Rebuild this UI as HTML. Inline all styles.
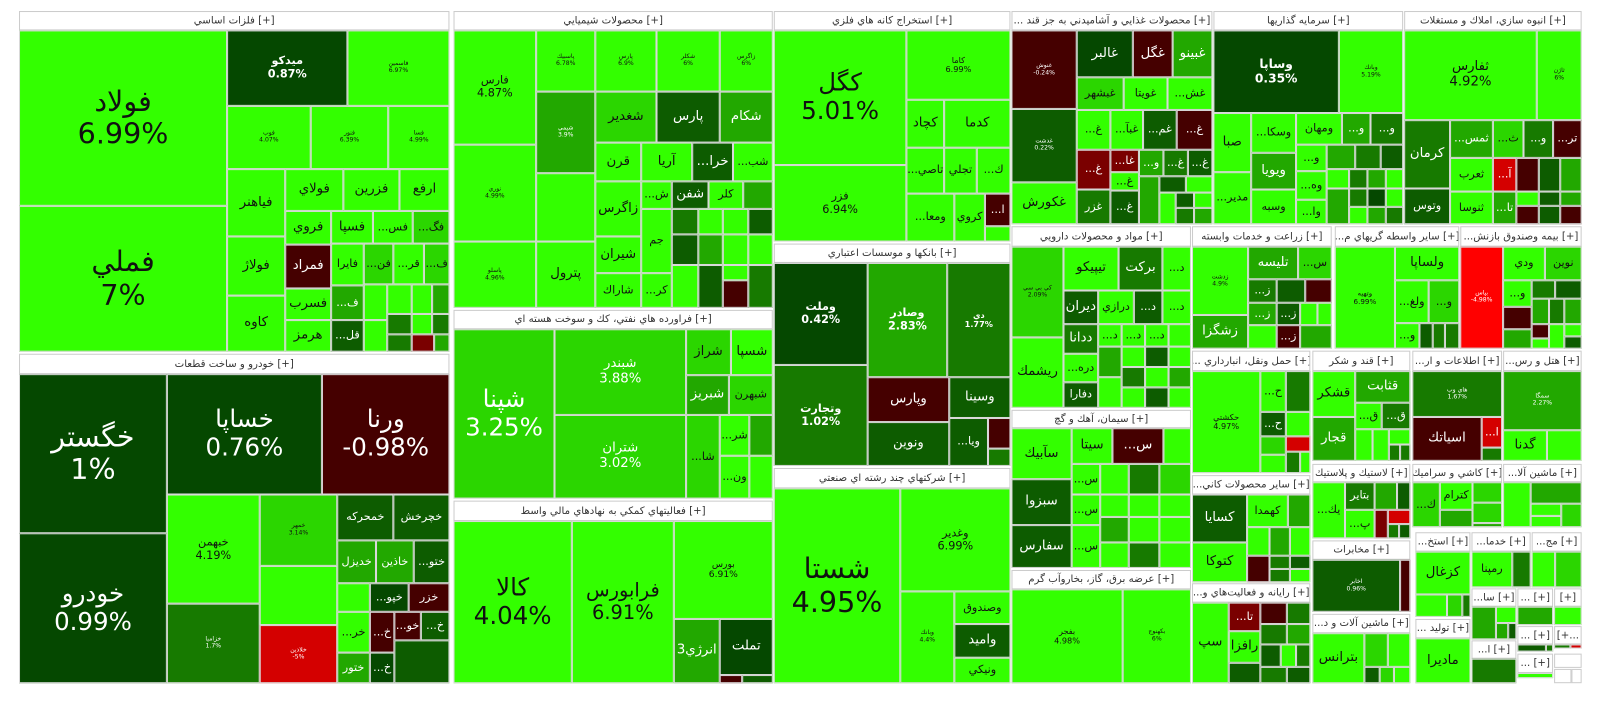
<!DOCTYPE html>
<html><head><meta charset="utf-8">
<style>
*{margin:0;padding:0;box-sizing:border-box}
body{width:1600px;height:698px;background:#fff;overflow:hidden;font-family:"DejaVu Sans","Liberation Sans",sans-serif;direction:ltr}
#m{position:absolute;left:0;top:0;width:1600px;height:698px;transform-origin:18px 10px;transform:translate(1px,0) scale(1.02)}
.c{position:absolute;border:1px solid #d9d9d9;display:flex;align-items:center;justify-content:center;text-align:center;overflow:hidden;color:#111;font-size:11px;line-height:1.15;white-space:nowrap}
.h{position:absolute;background:#fff;border:1px solid #ccc;color:#333;font-size:10px;display:flex;align-items:center;justify-content:center;white-space:nowrap;overflow:hidden}
.A{background:#33ff00}.B{background:#2bd600}.C{background:#22a800}.D{background:#177a00}.E{background:#0d5c00}.F{background:#054800}
.R{background:#450000;color:#fff}.Q{background:#d40000;color:#fff}.P{background:#7a0000;color:#fff}.X{background:#ff0000;color:#fff}
.C,.D,.E,.F{color:#fff}
.l{font-size:24px}.xl{font-size:28px}.m{font-size:13px}.s{font-size:11px}.t{font-size:6px}
</style></head><body><div id="m">

<!-- Sector 1 -->
<div class="h" style="left:18px;top:11px;width:422px;height:19px">فلزات اساسي [+]</div>
<div class="c A xl" style="left:18px;top:30px;width:204px;height:172px">فولاد<br>6.99%</div>
<div class="c A xl" style="left:18px;top:202px;width:204px;height:143px">فملي<br>7%</div>
<div class="c F s" style="left:222px;top:30px;width:118px;height:74px"><b>ميدكو<br>0.87%</b></div>
<div class="c A t" style="left:340px;top:30px;width:100px;height:74px">فاسمين<br>6.97%</div>
<div class="c A t" style="left:222px;top:104px;width:82px;height:62px">فوب<br>4.07%</div>
<div class="c A t" style="left:304px;top:104px;width:76px;height:62px">فنور<br>6.39%</div>
<div class="c A t" style="left:380px;top:104px;width:60px;height:62px">فسا<br>4.99%</div>
<div class="c A m" style="left:222px;top:166px;width:57px;height:66px">فياهنر</div>
<div class="c A m" style="left:222px;top:232px;width:57px;height:58px">فولاژ</div>
<div class="c A m" style="left:222px;top:290px;width:57px;height:55px">كاوه</div>
<div class="c A m" style="left:279px;top:166px;width:57px;height:41px">فولاي</div>
<div class="c A m" style="left:336px;top:166px;width:55px;height:41px">فزرين</div>
<div class="c A m" style="left:391px;top:166px;width:49px;height:41px">ارفع</div>
<div class="c A m" style="left:279px;top:207px;width:45px;height:33px">فروي</div>
<div class="c A m" style="left:324px;top:207px;width:41px;height:32px">فسپا</div>
<div class="c A s" style="left:365px;top:207px;width:39px;height:32px">...فس</div>
<div class="c B s" style="left:404px;top:207px;width:36px;height:32px">...فگ</div>
<div class="c R m" style="left:279px;top:240px;width:45px;height:43px">فمراد</div>
<div class="c A s" style="left:324px;top:239px;width:32px;height:41px">فايرا</div>
<div class="c B s" style="left:356px;top:239px;width:29px;height:40px">...فن</div>
<div class="c A s" style="left:385px;top:239px;width:30px;height:40px">...قر</div>
<div class="c B s" style="left:415px;top:239px;width:25px;height:40px">...ف</div>
<div class="c A m" style="left:279px;top:283px;width:45px;height:31px">فسرب</div>
<div class="c A m" style="left:279px;top:314px;width:45px;height:31px">هرمز</div>
<div class="c C s" style="left:324px;top:280px;width:32px;height:34px">...ف</div>
<div class="c E s" style="left:324px;top:314px;width:32px;height:31px">...قل</div>
<div class="c A" style="left:356px;top:279px;width:23px;height:35px"></div>
<div class="c A" style="left:356px;top:314px;width:23px;height:31px"></div>
<div class="c A" style="left:379px;top:279px;width:24px;height:29px"></div>
<div class="c A" style="left:403px;top:279px;width:20px;height:29px"></div>
<div class="c C" style="left:423px;top:279px;width:17px;height:29px"></div>
<div class="c D" style="left:379px;top:308px;width:24px;height:20px"></div>
<div class="c A" style="left:403px;top:308px;width:20px;height:20px"></div>
<div class="c D" style="left:423px;top:308px;width:17px;height:20px"></div>
<div class="c D" style="left:379px;top:328px;width:24px;height:17px"></div>
<div class="c P" style="left:403px;top:328px;width:22px;height:17px"></div>
<div class="c C" style="left:425px;top:328px;width:15px;height:17px"></div>

<!-- Sector 2 -->
<div class="h" style="left:18px;top:347px;width:422px;height:20px">خودرو و ساخت قطعات [+]</div>
<div class="c F xl" style="left:18px;top:367px;width:145px;height:156px">خگستر<br>1%</div>
<div class="c F l" style="left:18px;top:523px;width:145px;height:147px">خودرو<br>0.99%</div>
<div class="c F l" style="left:163px;top:367px;width:152px;height:118px">خساپا<br>0.76%</div>
<div class="c R l" style="left:315px;top:367px;width:125px;height:118px">ورنا<br>-0.98%</div>
<div class="c A s" style="left:163px;top:485px;width:91px;height:107px">خبهمن<br>4.19%</div>
<div class="c D t" style="left:163px;top:592px;width:91px;height:78px">خزامیا<br>1.7%</div>
<div class="c B t" style="left:254px;top:485px;width:76px;height:70px">خمهر<br>3.14%</div>
<div class="c A" style="left:254px;top:555px;width:76px;height:58px"></div>
<div class="c Q t" style="left:254px;top:613px;width:76px;height:57px">خلاذين<br>-5%</div>
<div class="c E s" style="left:330px;top:485px;width:55px;height:45px">خمحركه</div>
<div class="c E s" style="left:385px;top:485px;width:55px;height:45px">خچرخش</div>
<div class="c C s" style="left:330px;top:530px;width:38px;height:42px">خديزل</div>
<div class="c C s" style="left:368px;top:530px;width:37px;height:42px">خاذين</div>
<div class="c E s" style="left:405px;top:530px;width:35px;height:42px">...ختو</div>
<div class="c A s" style="left:330px;top:572px;width:32px;height:28px"></div>
<div class="c F s" style="left:362px;top:572px;width:38px;height:28px">...خپو</div>
<div class="c R s" style="left:400px;top:572px;width:40px;height:28px">خزر</div>
<div class="c A s" style="left:330px;top:600px;width:32px;height:40px">...خر</div>
<div class="c R s" style="left:362px;top:600px;width:24px;height:40px">...خ</div>
<div class="c R s" style="left:386px;top:600px;width:26px;height:28px">...خو</div>
<div class="c E s" style="left:412px;top:600px;width:28px;height:28px">...خ</div>
<div class="c C s" style="left:330px;top:640px;width:32px;height:30px">ختور</div>
<div class="c F s" style="left:362px;top:640px;width:24px;height:30px">...خ</div>
<div class="c E" style="left:386px;top:628px;width:54px;height:42px"></div>

<!-- Sector 3 chemicals -->
<div class="h" style="left:444px;top:11px;width:313px;height:19px">محصولات شيميايي [+]</div>
<div class="c A s" style="left:444px;top:30px;width:81px;height:112px">فارس<br>4.87%</div>
<div class="c A t" style="left:444px;top:142px;width:81px;height:95px">نوري<br>4.99%</div>
<div class="c A t" style="left:444px;top:237px;width:81px;height:65px">پاسلو<br>4.96%</div>
<div class="c A t" style="left:525px;top:30px;width:58px;height:60px">پاسبيك<br>6.78%</div>
<div class="c C t" style="left:525px;top:90px;width:58px;height:80px">شيمي<br>3.9%</div>
<div class="c A" style="left:525px;top:170px;width:58px;height:67px"></div>
<div class="c A m" style="left:525px;top:237px;width:58px;height:65px">پترول</div>
<div class="c A t" style="left:583px;top:30px;width:60px;height:60px">پارس<br>6.9%</div>
<div class="c A t" style="left:643px;top:30px;width:62px;height:60px">شكلر<br>6%</div>
<div class="c A t" style="left:705px;top:30px;width:52px;height:60px">زاگرس<br>6%</div>
<div class="c B m" style="left:583px;top:90px;width:60px;height:50px">شغدير</div>
<div class="c E m" style="left:643px;top:90px;width:62px;height:50px">پارس</div>
<div class="c C m" style="left:705px;top:90px;width:52px;height:50px">شكام</div>
<div class="c A m" style="left:583px;top:140px;width:45px;height:38px">قرن</div>
<div class="c A m" style="left:628px;top:140px;width:50px;height:38px">آريا</div>
<div class="c E m" style="left:678px;top:140px;width:40px;height:38px">...خرا</div>
<div class="c A s" style="left:718px;top:140px;width:39px;height:38px">...شب</div>
<div class="c A m" style="left:583px;top:178px;width:45px;height:54px">زاگرس</div>
<div class="c A m" style="left:583px;top:232px;width:45px;height:36px">شيران</div>
<div class="c A s" style="left:583px;top:268px;width:45px;height:34px">شاراك</div>
<div class="c A s" style="left:628px;top:178px;width:30px;height:27px">...ش</div>
<div class="c E m" style="left:658px;top:178px;width:36px;height:27px">شفن</div>
<div class="c A s" style="left:694px;top:178px;width:34px;height:27px">كلر</div>
<div class="c C" style="left:728px;top:178px;width:29px;height:27px"></div>
<div class="c A s" style="left:628px;top:205px;width:30px;height:63px">جم</div>
<div class="c A s" style="left:628px;top:268px;width:30px;height:34px">...كر</div>
<div class="c D" style="left:658px;top:205px;width:26px;height:25px"></div>
<div class="c A" style="left:684px;top:205px;width:24px;height:25px"></div>
<div class="c A" style="left:708px;top:205px;width:25px;height:25px"></div>
<div class="c E" style="left:733px;top:205px;width:24px;height:25px"></div>
<div class="c E" style="left:658px;top:230px;width:26px;height:30px"></div>
<div class="c C" style="left:684px;top:230px;width:24px;height:30px"></div>
<div class="c A" style="left:708px;top:230px;width:25px;height:30px"></div>
<div class="c A" style="left:733px;top:230px;width:24px;height:30px"></div>
<div class="c A" style="left:658px;top:260px;width:26px;height:42px"></div>
<div class="c E" style="left:684px;top:260px;width:24px;height:42px"></div>
<div class="c R" style="left:708px;top:275px;width:25px;height:27px"></div>
<div class="c A" style="left:708px;top:260px;width:25px;height:15px"></div>
<div class="c D" style="left:733px;top:260px;width:24px;height:42px"></div>

<!-- Sector 4 oil -->
<div class="h" style="left:444px;top:304px;width:313px;height:19px">فراورده هاي نفتي، كك و سوخت هسته اي [+]</div>
<div class="c B l" style="left:444px;top:323px;width:99px;height:166px"><span style="color:#fff">شپنا<br>3.25%</span></div>
<div class="c B m" style="left:543px;top:323px;width:129px;height:84px"><span style="color:#fff">شبندر<br>3.88%</span></div>
<div class="c B m" style="left:543px;top:407px;width:129px;height:82px"><span style="color:#fff">شتران<br>3.02%</span></div>
<div class="c B m" style="left:672px;top:323px;width:44px;height:45px">شراز</div>
<div class="c A m" style="left:716px;top:323px;width:41px;height:45px">شسپا</div>
<div class="c C m" style="left:672px;top:368px;width:42px;height:39px">شبريز</div>
<div class="c B s" style="left:714px;top:368px;width:43px;height:39px">شبهرن</div>
<div class="c B s" style="left:672px;top:407px;width:33px;height:82px">...شا</div>
<div class="c A s" style="left:705px;top:407px;width:29px;height:40px">...شر</div>
<div class="c C" style="left:734px;top:407px;width:23px;height:40px"></div>
<div class="c A s" style="left:705px;top:447px;width:29px;height:42px">...ون</div>
<div class="c A" style="left:734px;top:447px;width:23px;height:42px"></div>

<!-- Sector 5 -->
<div class="h" style="left:444px;top:491px;width:313px;height:20px">فعاليتهاي كمكي به نهادهاي مالي واسط [+]</div>
<div class="c A l" style="left:444px;top:511px;width:116px;height:159px">كالا<br>4.04%</div>
<div class="c A l" style="left:560px;top:511px;width:100px;height:159px" ><span style="font-size:19px">فرابورس<br>6.91%</span></div>
<div class="c A t" style="left:660px;top:511px;width:97px;height:96px"><span style="font-size:9px">بورس<br>6.91%</span></div>
<div class="c C m" style="left:660px;top:607px;width:45px;height:63px">انرژي3</div>
<div class="c F m" style="left:705px;top:607px;width:52px;height:55px">تملت</div>
<div class="c R" style="left:705px;top:662px;width:22px;height:8px"></div>
<div class="c E" style="left:727px;top:662px;width:30px;height:8px"></div>

<!-- Sector 6 mining -->
<div class="h" style="left:758px;top:11px;width:232px;height:19px">استخراج كانه هاي فلزي [+]</div>
<div class="c A l" style="left:758px;top:30px;width:130px;height:132px">كگل<br>5.01%</div>
<div class="c A s" style="left:758px;top:162px;width:130px;height:75px">فزر<br>6.94%</div>
<div class="c A t" style="left:888px;top:30px;width:102px;height:68px"><span style="font-size:8px">كاما<br>6.99%</span></div>
<div class="c A m" style="left:888px;top:98px;width:37px;height:47px">كچاد</div>
<div class="c A m" style="left:925px;top:98px;width:65px;height:47px">كدما</div>
<div class="c A s" style="left:888px;top:145px;width:37px;height:45px">...تاصي</div>
<div class="c A s" style="left:925px;top:145px;width:32px;height:45px">تجلي</div>
<div class="c A s" style="left:957px;top:145px;width:33px;height:45px">...ك</div>
<div class="c A s" style="left:888px;top:190px;width:47px;height:47px">...ومعا</div>
<div class="c A s" style="left:935px;top:190px;width:30px;height:47px">كروي</div>
<div class="c R s" style="left:965px;top:190px;width:25px;height:32px">...ا</div>
<div class="c A" style="left:965px;top:222px;width:25px;height:15px"></div>

<!-- Sector 7 banks -->
<div class="h" style="left:758px;top:239px;width:232px;height:19px">بانكها و موسسات اعتباري [+]</div>
<div class="c F s" style="left:758px;top:258px;width:92px;height:100px"><b>وملت<br>0.42%</b></div>
<div class="c D s" style="left:758px;top:358px;width:92px;height:99px"><b>وتجارت<br>1.02%</b></div>
<div class="c C s" style="left:850px;top:258px;width:78px;height:112px"><b>وصادر<br>2.83%</b></div>
<div class="c D t" style="left:928px;top:258px;width:62px;height:112px"><b style="font-size:8px">دي<br>1.77%</b></div>
<div class="c R m" style="left:850px;top:370px;width:80px;height:44px">وپارس</div>
<div class="c E m" style="left:850px;top:414px;width:80px;height:43px">ونوين</div>
<div class="c E m" style="left:930px;top:370px;width:60px;height:40px">وسينا</div>
<div class="c E s" style="left:930px;top:410px;width:38px;height:47px">...ويا</div>
<div class="c R" style="left:968px;top:410px;width:22px;height:30px"></div>
<div class="c D" style="left:968px;top:440px;width:22px;height:17px"></div>

<!-- Sector 8 -->
<div class="h" style="left:758px;top:459px;width:232px;height:20px">شركتهاي چند رشته اي صنعتي [+]</div>
<div class="c A xl" style="left:758px;top:479px;width:124px;height:191px">شستا<br>4.95%</div>
<div class="c A s" style="left:882px;top:479px;width:108px;height:101px">وغدير<br>6.99%</div>
<div class="c A t" style="left:882px;top:580px;width:53px;height:90px">وبانك<br>4.4%</div>
<div class="c A s" style="left:935px;top:580px;width:55px;height:32px">وصندوق</div>
<div class="c E m" style="left:935px;top:612px;width:55px;height:33px">واميد</div>
<div class="c A s" style="left:935px;top:645px;width:55px;height:25px">ونيكي</div>

<!-- Sector 9 food -->
<div class="h" style="left:991px;top:11px;width:197px;height:19px">... محصولات غذايي و آشاميدني به جز قند [+]</div>
<div class="c R t" style="left:991px;top:30px;width:64px;height:77px">غنوش<br>-0.24%</div>
<div class="c E t" style="left:991px;top:107px;width:64px;height:72px">غدشت<br>0.22%</div>
<div class="c A m" style="left:991px;top:179px;width:64px;height:41px">غكورش</div>
<div class="c F m" style="left:1055px;top:30px;width:55px;height:46px">غالبر</div>
<div class="c R m" style="left:1110px;top:30px;width:39px;height:46px">غگل</div>
<div class="c C m" style="left:1149px;top:30px;width:39px;height:46px">غبينو</div>
<div class="c B s" style="left:1055px;top:76px;width:46px;height:32px">غبشهر</div>
<div class="c A s" style="left:1101px;top:76px;width:43px;height:32px">غويتا</div>
<div class="c A s" style="left:1144px;top:76px;width:44px;height:32px">...غش</div>
<div class="c A s" style="left:1055px;top:108px;width:33px;height:39px">...غ</div>
<div class="c A s" style="left:1088px;top:108px;width:32px;height:39px">...غبآ</div>
<div class="c E s" style="left:1120px;top:108px;width:33px;height:39px">...غم</div>
<div class="c R s" style="left:1153px;top:108px;width:35px;height:39px">...غ</div>
<div class="c P s" style="left:1055px;top:147px;width:33px;height:39px">...غ</div>
<div class="c P s" style="left:1088px;top:147px;width:28px;height:22px">...غا</div>
<div class="c A s" style="left:1088px;top:169px;width:28px;height:18px">...غ</div>
<div class="c C s" style="left:1116px;top:147px;width:24px;height:26px">...و</div>
<div class="c D s" style="left:1140px;top:147px;width:24px;height:26px">...غ</div>
<div class="c E s" style="left:1164px;top:147px;width:24px;height:26px">...غ</div>
<div class="c D s" style="left:1055px;top:186px;width:33px;height:34px">غزر</div>
<div class="c E s" style="left:1088px;top:187px;width:28px;height:33px">...غ</div>
<div class="c C" style="left:1116px;top:173px;width:20px;height:47px"></div>
<div class="c E" style="left:1136px;top:173px;width:26px;height:16px"></div>
<div class="c A" style="left:1162px;top:173px;width:26px;height:16px"></div>
<div class="c A" style="left:1136px;top:189px;width:16px;height:31px"></div>
<div class="c E" style="left:1152px;top:189px;width:18px;height:15px"></div>
<div class="c A" style="left:1170px;top:189px;width:18px;height:15px"></div>
<div class="c D" style="left:1152px;top:204px;width:18px;height:16px"></div>
<div class="c C" style="left:1170px;top:204px;width:18px;height:16px"></div>

<!-- Sector 10 investment -->
<div class="h" style="left:1189px;top:11px;width:186px;height:19px">سرمايه گذاريها [+]</div>
<div class="c F s" style="left:1189px;top:30px;width:123px;height:81px"><b style="font-size:12px">وساپا<br>0.35%</b></div>
<div class="c A t" style="left:1312px;top:30px;width:63px;height:81px">وبانك<br>5.19%</div>
<div class="c A m" style="left:1189px;top:111px;width:37px;height:58px">صبا</div>
<div class="c A s" style="left:1189px;top:169px;width:37px;height:51px">...مدير</div>
<div class="c A s" style="left:1226px;top:111px;width:44px;height:39px">...وسكا</div>
<div class="c C m" style="left:1226px;top:150px;width:44px;height:36px">ويويا</div>
<div class="c A s" style="left:1226px;top:186px;width:44px;height:34px">وسبه</div>
<div class="c A s" style="left:1270px;top:111px;width:45px;height:31px">ومهان</div>
<div class="c C s" style="left:1315px;top:111px;width:28px;height:31px">...و</div>
<div class="c D s" style="left:1343px;top:111px;width:32px;height:31px">...و</div>
<div class="c A s" style="left:1270px;top:142px;width:30px;height:26px">...و</div>
<div class="c A s" style="left:1270px;top:168px;width:30px;height:28px">...وه</div>
<div class="c A s" style="left:1270px;top:196px;width:30px;height:24px">...وا</div>
<div class="c C" style="left:1300px;top:142px;width:28px;height:24px"></div>
<div class="c D" style="left:1328px;top:142px;width:25px;height:24px"></div>
<div class="c E" style="left:1353px;top:142px;width:22px;height:24px"></div>
<div class="c A" style="left:1300px;top:166px;width:22px;height:19px"></div>
<div class="c D" style="left:1322px;top:166px;width:18px;height:19px"></div>
<div class="c C" style="left:1340px;top:166px;width:18px;height:19px"></div>
<div class="c A" style="left:1358px;top:166px;width:17px;height:19px"></div>
<div class="c C" style="left:1300px;top:185px;width:22px;height:35px"></div>
<div class="c D" style="left:1322px;top:185px;width:18px;height:18px"></div>
<div class="c F" style="left:1340px;top:185px;width:18px;height:18px"></div>
<div class="c A" style="left:1358px;top:185px;width:17px;height:18px"></div>
<div class="c A" style="left:1322px;top:203px;width:18px;height:17px"></div>
<div class="c C" style="left:1340px;top:203px;width:18px;height:17px"></div>
<div class="c D" style="left:1358px;top:203px;width:17px;height:17px"></div>

<!-- Sector 11 -->
<div class="h" style="left:1376px;top:11px;width:174px;height:19px">انبوه سازي، املاك و مستغلات [+]</div>
<div class="c A m" style="left:1376px;top:30px;width:130px;height:88px">ثفارس<br>4.92%</div>
<div class="c A t" style="left:1506px;top:30px;width:44px;height:88px">ثاژن<br>6%</div>
<div class="c D m" style="left:1376px;top:118px;width:45px;height:67px">كرمان</div>
<div class="c E s" style="left:1376px;top:185px;width:45px;height:35px">وتوس</div>
<div class="c C s" style="left:1421px;top:118px;width:42px;height:37px">...ثمس</div>
<div class="c B s" style="left:1463px;top:118px;width:30px;height:37px">...ث</div>
<div class="c D s" style="left:1493px;top:118px;width:29px;height:37px">...و</div>
<div class="c R s" style="left:1522px;top:118px;width:28px;height:37px">...تر</div>
<div class="c A s" style="left:1421px;top:155px;width:42px;height:33px">ثعرب</div>
<div class="c Q s" style="left:1463px;top:155px;width:23px;height:33px">...آ</div>
<div class="c R" style="left:1486px;top:155px;width:22px;height:33px"></div>
<div class="c E" style="left:1508px;top:155px;width:21px;height:33px"></div>
<div class="c C" style="left:1529px;top:155px;width:21px;height:33px"></div>
<div class="c A s" style="left:1421px;top:188px;width:42px;height:32px">ثنوسا</div>
<div class="c C s" style="left:1463px;top:188px;width:23px;height:32px">...تا</div>
<div class="c A" style="left:1486px;top:188px;width:22px;height:14px"></div>
<div class="c E" style="left:1508px;top:188px;width:21px;height:14px"></div>
<div class="c C" style="left:1529px;top:188px;width:21px;height:14px"></div>
<div class="c R" style="left:1486px;top:202px;width:22px;height:18px"></div>
<div class="c E" style="left:1508px;top:202px;width:21px;height:18px"></div>
<div class="c R" style="left:1529px;top:202px;width:21px;height:18px"></div>

<!-- Sector 12 pharma -->
<div class="h" style="left:991px;top:222px;width:176px;height:20px">مواد و محصولات دارويي [+]</div>
<div class="c B t" style="left:991px;top:242px;width:51px;height:89px">كي بي سي<br>2.09%</div>
<div class="c A m" style="left:991px;top:331px;width:51px;height:69px">ريشمك</div>
<div class="c A m" style="left:1042px;top:242px;width:54px;height:43px">تيپيكو</div>
<div class="c D m" style="left:1096px;top:242px;width:43px;height:43px">بركت</div>
<div class="c A s" style="left:1139px;top:242px;width:28px;height:43px">...د</div>
<div class="c E m" style="left:1042px;top:285px;width:34px;height:33px">ديران</div>
<div class="c A s" style="left:1076px;top:285px;width:35px;height:33px">درازي</div>
<div class="c E s" style="left:1111px;top:285px;width:28px;height:33px">...د</div>
<div class="c A s" style="left:1139px;top:285px;width:28px;height:33px">...د</div>
<div class="c D m" style="left:1042px;top:318px;width:34px;height:29px">ددانا</div>
<div class="c A s" style="left:1076px;top:318px;width:23px;height:22px">...د</div>
<div class="c A s" style="left:1099px;top:318px;width:23px;height:22px">...د</div>
<div class="c A s" style="left:1122px;top:318px;width:23px;height:22px">...د</div>
<div class="c A" style="left:1145px;top:318px;width:22px;height:22px"></div>
<div class="c A s" style="left:1042px;top:347px;width:34px;height:28px">...دره</div>
<div class="c E s" style="left:1042px;top:375px;width:34px;height:25px">دفارا</div>
<div class="c C" style="left:1076px;top:340px;width:23px;height:30px"></div>
<div class="c A" style="left:1099px;top:340px;width:23px;height:20px"></div>
<div class="c E" style="left:1122px;top:340px;width:23px;height:20px"></div>
<div class="c A" style="left:1145px;top:340px;width:22px;height:20px"></div>
<div class="c A" style="left:1076px;top:370px;width:23px;height:30px"></div>
<div class="c D" style="left:1099px;top:360px;width:23px;height:20px"></div>
<div class="c A" style="left:1122px;top:360px;width:23px;height:20px"></div>
<div class="c C" style="left:1145px;top:360px;width:22px;height:20px"></div>
<div class="c A" style="left:1099px;top:380px;width:23px;height:20px"></div>
<div class="c E" style="left:1122px;top:380px;width:23px;height:20px"></div>
<div class="c A" style="left:1145px;top:380px;width:22px;height:20px"></div>

<!-- Sector 13 cement -->
<div class="h" style="left:991px;top:402px;width:176px;height:18px">سيمان، آهك و گچ [+]</div>
<div class="c A m" style="left:991px;top:420px;width:59px;height:50px">سآبيك</div>
<div class="c E m" style="left:991px;top:470px;width:59px;height:45px">سبزوا</div>
<div class="c E m" style="left:991px;top:515px;width:59px;height:42px">سفارس</div>
<div class="c A m" style="left:1050px;top:420px;width:40px;height:35px">سيتا</div>
<div class="c R m" style="left:1090px;top:420px;width:50px;height:35px">...س</div>
<div class="c A" style="left:1140px;top:420px;width:27px;height:35px"></div>
<div class="c A s" style="left:1050px;top:455px;width:28px;height:30px">...س</div>
<div class="c A" style="left:1078px;top:455px;width:28px;height:30px"></div>
<div class="c D" style="left:1106px;top:455px;width:30px;height:30px"></div>
<div class="c B" style="left:1136px;top:455px;width:31px;height:30px"></div>
<div class="c A s" style="left:1050px;top:485px;width:28px;height:30px">...س</div>
<div class="c A" style="left:1078px;top:485px;width:28px;height:22px"></div>
<div class="c A" style="left:1106px;top:485px;width:30px;height:22px"></div>
<div class="c A" style="left:1136px;top:485px;width:31px;height:22px"></div>
<div class="c A s" style="left:1050px;top:515px;width:28px;height:42px">...س</div>
<div class="c C" style="left:1078px;top:507px;width:28px;height:25px"></div>
<div class="c A" style="left:1106px;top:507px;width:30px;height:25px"></div>
<div class="c A" style="left:1136px;top:507px;width:31px;height:25px"></div>
<div class="c A" style="left:1078px;top:532px;width:28px;height:25px"></div>
<div class="c D" style="left:1106px;top:532px;width:30px;height:25px"></div>
<div class="c A" style="left:1136px;top:532px;width:31px;height:25px"></div>

<!-- Sector 14 electricity -->
<div class="h" style="left:991px;top:559px;width:176px;height:19px">عرضه برق، گاز، بخاروآب گرم [+]</div>
<div class="c A t" style="left:991px;top:578px;width:109px;height:92px"><span style="font-size:8px">بفجر<br>4.98%</span></div>
<div class="c A t" style="left:1100px;top:578px;width:67px;height:92px">بكهنوج<br>6%</div>

<!-- Sector 15 agri -->
<div class="h" style="left:1168px;top:222px;width:137px;height:20px">زراعت و خدمات وابسته [+]</div>
<div class="c A t" style="left:1168px;top:242px;width:55px;height:67px">زدشت<br>4.9%</div>
<div class="c C m" style="left:1168px;top:309px;width:55px;height:33px">زشگزا</div>
<div class="c C m" style="left:1223px;top:242px;width:49px;height:32px">تليسه</div>
<div class="c B s" style="left:1272px;top:242px;width:33px;height:32px">...س</div>
<div class="c D s" style="left:1223px;top:274px;width:28px;height:23px">...ز</div>
<div class="c E" style="left:1251px;top:274px;width:28px;height:23px"></div>
<div class="c R" style="left:1279px;top:274px;width:26px;height:23px"></div>
<div class="c C s" style="left:1223px;top:297px;width:28px;height:22px">...ز</div>
<div class="c E s" style="left:1251px;top:297px;width:23px;height:22px">...ز</div>
<div class="c A" style="left:1274px;top:297px;width:17px;height:22px"></div>
<div class="c A" style="left:1291px;top:297px;width:14px;height:22px"></div>
<div class="c A" style="left:1223px;top:319px;width:28px;height:23px"></div>
<div class="c R s" style="left:1251px;top:319px;width:23px;height:23px">...ز</div>
<div class="c C" style="left:1274px;top:319px;width:31px;height:23px"></div>

<!-- Sector 16 -->
<div class="h" style="left:1308px;top:222px;width:122px;height:20px">...ساير واسطه گريهاي م [+]</div>
<div class="c A t" style="left:1308px;top:242px;width:59px;height:100px"><span style="font-size:7px">وتهيه<br>6.99%</span></div>
<div class="c A m" style="left:1367px;top:242px;width:63px;height:33px">ولساپا</div>
<div class="c A s" style="left:1367px;top:275px;width:33px;height:42px">...ولغ</div>
<div class="c B s" style="left:1400px;top:275px;width:30px;height:42px">...و</div>
<div class="c A s" style="left:1367px;top:317px;width:24px;height:25px">...و</div>
<div class="c E" style="left:1391px;top:317px;width:13px;height:25px"></div>
<div class="c D" style="left:1404px;top:317px;width:12px;height:25px"></div>
<div class="c D" style="left:1416px;top:317px;width:14px;height:25px"></div>

<!-- Sector 17 -->
<div class="h" style="left:1431px;top:222px;width:119px;height:20px">...بيمه وصندوق بازنش [+]</div>
<div class="c X t" style="left:1431px;top:242px;width:42px;height:100px">بپاس<br>-4.98%</div>
<div class="c A s" style="left:1473px;top:242px;width:41px;height:33px">ودي</div>
<div class="c B s" style="left:1514px;top:242px;width:36px;height:33px">نوين</div>
<div class="c A s" style="left:1473px;top:275px;width:28px;height:26px">...و</div>
<div class="c D" style="left:1501px;top:275px;width:23px;height:18px"></div>
<div class="c E" style="left:1524px;top:275px;width:26px;height:18px"></div>
<div class="c R" style="left:1473px;top:301px;width:28px;height:22px"></div>
<div class="c C" style="left:1501px;top:293px;width:17px;height:25px"></div>
<div class="c D" style="left:1518px;top:293px;width:15px;height:25px"></div>
<div class="c C" style="left:1533px;top:293px;width:17px;height:25px"></div>
<div class="c C" style="left:1473px;top:323px;width:28px;height:19px"></div>
<div class="c R" style="left:1501px;top:318px;width:17px;height:14px"></div>
<div class="c A" style="left:1518px;top:318px;width:15px;height:24px"></div>
<div class="c A" style="left:1533px;top:318px;width:17px;height:12px"></div>
<div class="c E" style="left:1533px;top:330px;width:17px;height:12px"></div>
<div class="c A" style="left:1501px;top:332px;width:17px;height:10px"></div>

<!-- Sector 18 transport -->
<div class="h" style="left:1168px;top:344px;width:116px;height:20px">... حمل ونقل، انبارداري [+]</div>
<div class="c A t" style="left:1168px;top:364px;width:67px;height:100px"><span style="font-size:8px">حكشتي<br>4.97%</span></div>
<div class="c A s" style="left:1235px;top:364px;width:25px;height:40px">...ح</div>
<div class="c D" style="left:1260px;top:364px;width:24px;height:40px"></div>
<div class="c E s" style="left:1235px;top:404px;width:25px;height:24px">...ح</div>
<div class="c A" style="left:1260px;top:404px;width:24px;height:24px"></div>
<div class="c B" style="left:1235px;top:428px;width:25px;height:18px"></div>
<div class="c Q" style="left:1260px;top:428px;width:24px;height:15px"></div>
<div class="c A" style="left:1235px;top:446px;width:25px;height:18px"></div>
<div class="c D" style="left:1260px;top:443px;width:14px;height:21px"></div>
<div class="c A" style="left:1274px;top:443px;width:10px;height:21px"></div>

<!-- Sector 19 -->
<div class="h" style="left:1286px;top:344px;width:96px;height:20px">قند و شكر [+]</div>
<div class="c A m" style="left:1286px;top:364px;width:42px;height:45px">قشكر</div>
<div class="c C m" style="left:1328px;top:364px;width:54px;height:31px">قثابت</div>
<div class="c A s" style="left:1328px;top:395px;width:26px;height:26px">...ق</div>
<div class="c D s" style="left:1354px;top:395px;width:28px;height:26px">...ق</div>
<div class="c C m" style="left:1286px;top:409px;width:42px;height:43px">قجار</div>
<div class="c A" style="left:1328px;top:421px;width:17px;height:31px"></div>
<div class="c A" style="left:1345px;top:421px;width:16px;height:31px"></div>
<div class="c A" style="left:1361px;top:421px;width:21px;height:15px"></div>
<div class="c D" style="left:1361px;top:436px;width:11px;height:16px"></div>
<div class="c D" style="left:1372px;top:436px;width:10px;height:16px"></div>

<!-- Sector 20 -->
<div class="h" style="left:1384px;top:344px;width:88px;height:20px">...اطلاعات و ار [+]</div>
<div class="c D t" style="left:1384px;top:364px;width:88px;height:45px">هاي وب<br>1.67%</div>
<div class="c R m" style="left:1384px;top:409px;width:68px;height:43px">اسياتك</div>
<div class="c Q s" style="left:1452px;top:409px;width:20px;height:30px">...ا</div>
<div class="c D" style="left:1452px;top:439px;width:20px;height:13px"></div>

<!-- Sector 21 -->
<div class="h" style="left:1473px;top:344px;width:77px;height:20px">...هتل و رس [+]</div>
<div class="c C t" style="left:1473px;top:364px;width:77px;height:58px">سمگا<br>2.27%</div>
<div class="c A m" style="left:1473px;top:422px;width:43px;height:30px">گدنا</div>
<div class="c A" style="left:1516px;top:422px;width:34px;height:30px"></div>

<!-- Sector 22 -->
<div class="h" style="left:1168px;top:466px;width:116px;height:19px">...ساير محصولات كاني [+]</div>
<div class="c E m" style="left:1168px;top:485px;width:54px;height:47px">كسايا</div>
<div class="c A m" style="left:1168px;top:532px;width:54px;height:39px">كتوكا</div>
<div class="c A s" style="left:1222px;top:485px;width:40px;height:32px">كهمدا</div>
<div class="c C" style="left:1262px;top:485px;width:22px;height:32px"></div>
<div class="c A" style="left:1222px;top:517px;width:22px;height:28px"></div>
<div class="c C" style="left:1244px;top:517px;width:20px;height:28px"></div>
<div class="c A" style="left:1264px;top:517px;width:20px;height:28px"></div>
<div class="c R" style="left:1222px;top:545px;width:22px;height:26px"></div>
<div class="c D" style="left:1244px;top:545px;width:20px;height:13px"></div>
<div class="c E" style="left:1264px;top:545px;width:20px;height:13px"></div>
<div class="c D" style="left:1244px;top:558px;width:20px;height:13px"></div>
<div class="c A" style="left:1264px;top:558px;width:20px;height:13px"></div>

<!-- Sector 23 -->
<div class="h" style="left:1168px;top:572px;width:116px;height:19px">...رايانه و فعاليت‌هاي و [+]</div>
<div class="c A m" style="left:1168px;top:591px;width:36px;height:79px">سپ</div>
<div class="c P s" style="left:1204px;top:591px;width:31px;height:28px">...تا</div>
<div class="c R" style="left:1235px;top:591px;width:26px;height:21px"></div>
<div class="c D" style="left:1261px;top:591px;width:23px;height:21px"></div>
<div class="c A m" style="left:1204px;top:619px;width:31px;height:31px">رافزا</div>
<div class="c D" style="left:1235px;top:612px;width:26px;height:20px"></div>
<div class="c C" style="left:1261px;top:612px;width:23px;height:20px"></div>
<div class="c E" style="left:1235px;top:632px;width:20px;height:22px"></div>
<div class="c A" style="left:1255px;top:632px;width:15px;height:22px"></div>
<div class="c D" style="left:1270px;top:632px;width:14px;height:22px"></div>
<div class="c E" style="left:1204px;top:650px;width:31px;height:20px"></div>
<div class="c D" style="left:1235px;top:654px;width:26px;height:16px"></div>
<div class="c E" style="left:1261px;top:654px;width:23px;height:16px"></div>

<!-- Sector 24 -->
<div class="h" style="left:1286px;top:455px;width:96px;height:18px">لاستيك و پلاستيك [+]</div>
<div class="c A s" style="left:1286px;top:473px;width:32px;height:55px">...يك</div>
<div class="c D s" style="left:1318px;top:473px;width:29px;height:27px">بتاير</div>
<div class="c A s" style="left:1318px;top:500px;width:29px;height:28px">...پ</div>
<div class="c C" style="left:1347px;top:473px;width:22px;height:27px"></div>
<div class="c E" style="left:1369px;top:473px;width:13px;height:27px"></div>
<div class="c P" style="left:1347px;top:500px;width:13px;height:28px"></div>
<div class="c Q" style="left:1360px;top:500px;width:22px;height:14px"></div>
<div class="c D" style="left:1360px;top:514px;width:11px;height:14px"></div>
<div class="c E" style="left:1371px;top:514px;width:11px;height:14px"></div>

<!-- Sector 25 -->
<div class="h" style="left:1384px;top:455px;width:88px;height:18px">كاشي و سراميك [+]</div>
<div class="c B s" style="left:1384px;top:473px;width:27px;height:44px">...ك</div>
<div class="c A s" style="left:1411px;top:473px;width:32px;height:27px">كترام</div>
<div class="c B" style="left:1443px;top:473px;width:29px;height:20px"></div>
<div class="c B" style="left:1443px;top:493px;width:29px;height:20px"></div>
<div class="c C" style="left:1411px;top:500px;width:32px;height:17px"></div>
<div class="c C" style="left:1443px;top:513px;width:29px;height:4px"></div>

<!-- Sector 26 -->
<div class="h" style="left:1473px;top:455px;width:77px;height:18px">...ماشين آلا [+]</div>
<div class="c A" style="left:1473px;top:473px;width:27px;height:44px"></div>
<div class="c C" style="left:1500px;top:473px;width:50px;height:21px"></div>
<div class="c A" style="left:1500px;top:494px;width:30px;height:12px"></div>
<div class="c A" style="left:1500px;top:506px;width:30px;height:11px"></div>
<div class="c B" style="left:1530px;top:494px;width:20px;height:23px"></div>

<!-- Sector 27 -->
<div class="h" style="left:1286px;top:530px;width:96px;height:19px">مخابرات [+]</div>
<div class="c E t" style="left:1286px;top:549px;width:86px;height:51px">اخابر<br>0.96%</div>
<div class="c R" style="left:1372px;top:549px;width:10px;height:51px"></div>

<!-- Sector 28 -->
<div class="h" style="left:1286px;top:602px;width:96px;height:19px">...ماشين آلات و د [+]</div>
<div class="c A m" style="left:1286px;top:621px;width:51px;height:49px">بترانس</div>
<div class="c B" style="left:1337px;top:621px;width:23px;height:33px"></div>
<div class="c A" style="left:1360px;top:621px;width:22px;height:33px"></div>
<div class="c E" style="left:1337px;top:654px;width:15px;height:16px"></div>
<div class="c B" style="left:1352px;top:654px;width:14px;height:16px"></div>
<div class="c A" style="left:1366px;top:654px;width:16px;height:16px"></div>

<!-- small bottom right -->
<div class="h" style="left:1387px;top:522px;width:54px;height:19px">...استخ [+]</div>
<div class="c A m" style="left:1387px;top:541px;width:54px;height:42px">كزغال</div>
<div class="c A" style="left:1387px;top:583px;width:31px;height:22px"></div>
<div class="c B" style="left:1418px;top:583px;width:15px;height:22px"></div>
<div class="c D" style="left:1433px;top:583px;width:8px;height:22px"></div>
<div class="h" style="left:1387px;top:607px;width:54px;height:19px">... توليد [+]</div>
<div class="c A m" style="left:1387px;top:626px;width:54px;height:44px">ماديرا</div>
<div class="h" style="left:1442px;top:522px;width:58px;height:19px">...خدما [+]</div>
<div class="c A s" style="left:1442px;top:541px;width:40px;height:35px">رمپنا</div>
<div class="c D" style="left:1482px;top:541px;width:18px;height:35px"></div>
<div class="h" style="left:1501px;top:522px;width:49px;height:19px">...مج [+]</div>
<div class="c A" style="left:1501px;top:541px;width:23px;height:35px"></div>
<div class="c B" style="left:1524px;top:541px;width:26px;height:35px"></div>
<div class="h" style="left:1442px;top:577px;width:44px;height:18px">...سا [+]</div>
<div class="c C" style="left:1442px;top:595px;width:24px;height:32px"></div>
<div class="c A" style="left:1466px;top:595px;width:20px;height:16px"></div>
<div class="c C" style="left:1466px;top:611px;width:12px;height:16px"></div>
<div class="c E" style="left:1478px;top:611px;width:8px;height:16px"></div>
<div class="h" style="left:1442px;top:628px;width:44px;height:18px">...ا [+]</div>
<div class="c D" style="left:1442px;top:646px;width:44px;height:24px"></div>
<div class="h" style="left:1487px;top:577px;width:35px;height:18px">... [+]</div>
<div class="c C" style="left:1487px;top:595px;width:35px;height:18px"></div>
<div class="h" style="left:1523px;top:577px;width:27px;height:18px">[+]</div>
<div class="c A" style="left:1523px;top:595px;width:27px;height:18px"></div>
<div class="h" style="left:1487px;top:614px;width:35px;height:18px">... [+]</div>
<div class="c E" style="left:1487px;top:632px;width:28px;height:7px"></div>
<div class="c D" style="left:1515px;top:632px;width:7px;height:7px"></div>
<div class="h" style="left:1523px;top:614px;width:27px;height:18px">[+...</div>
<div class="c D" style="left:1523px;top:632px;width:16px;height:4px"></div>
<div class="c Q" style="left:1539px;top:632px;width:11px;height:4px"></div>
<div class="h" style="left:1487px;top:641px;width:35px;height:19px">... [+]</div>
<div class="c A" style="left:1487px;top:660px;width:35px;height:5px"></div>
<div class="h" style="left:1523px;top:641px;width:27px;height:14px"></div>
<div class="h" style="left:1523px;top:656px;width:17px;height:14px"></div>
<div class="h" style="left:1540px;top:656px;width:10px;height:14px"></div>
</div></body></html>
